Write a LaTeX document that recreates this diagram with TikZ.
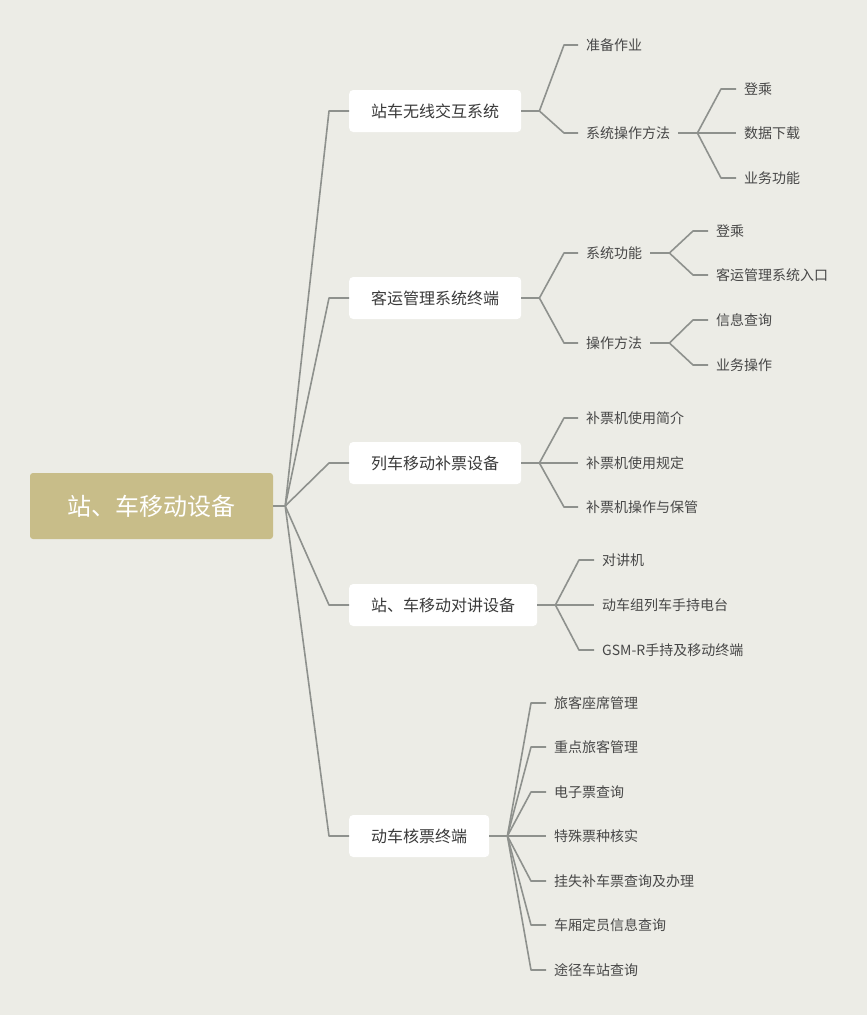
\documentclass[tikz,border=0pt]{standalone}
\usepackage{fontspec}
\setmainfont{Noto Sans CJK SC}
\definecolor{bg}{HTML}{ECECE6}
\definecolor{lc}{HTML}{8E918D}
\definecolor{rootc}{HTML}{C8BD89}
\definecolor{tc}{HTML}{3A3A3A}
\definecolor{lt}{HTML}{474747}
\begin{document}
\begin{tikzpicture}[x=1pt,y=-1pt,
 conn/.style={draw=lc, line width=1.6pt, line join=round},
 rootnode/.style={fill=rootc, rounded corners=3pt, minimum width=243pt, minimum height=66pt, text=white, font=\fontsize{24}{28}\selectfont},
 topic/.style={fill=white, rounded corners=4pt, inner xsep=22pt, minimum height=42pt, font=\fontsize{16}{19}\selectfont, text=tc, anchor=west},
 leaf/.style={inner xsep=0pt, inner ysep=2pt, anchor=west, font=\fontsize{14}{17}\selectfont, text=lt}]
\fill[bg] (0,0) rectangle (867,1015);
\useasboundingbox (0,0) rectangle (867,1015);

% root
\node[rootnode] (root) at (151.5,506) {站、车移动设备};

% topics
\node[topic] (t1) at (349,111) {站车无线交互系统};
\node[topic] (t2) at (349,298) {客运管理系统终端};
\node[topic] (t3) at (349,463) {列车移动补票设备};
\node[topic] (t4) at (349,605) {站、车移动对讲设备};
\node[topic] (t5) at (349,836) {动车核票终端};

% branch 1
\node[leaf] (a1) at (586,45) {准备作业};
\node[leaf] (a2) at (586,133) {系统操作方法};
\node[leaf] (a21) at (744,89) {登乘};
\node[leaf] (a22) at (744,133) {数据下载};
\node[leaf] (a23) at (744,178) {业务功能};

% branch 2
\node[leaf] (b1) at (586,253) {系统功能};
\node[leaf] (b2) at (586,343) {操作方法};
\node[leaf] (b11) at (716,231) {登乘};
\node[leaf] (b12) at (716,275) {客运管理系统入口};
\node[leaf] (b21) at (716,320) {信息查询};
\node[leaf] (b22) at (716,365) {业务操作};

% branch 3
\node[leaf] (c1) at (586,418) {补票机使用简介};
\node[leaf] (c2) at (586,463) {补票机使用规定};
\node[leaf] (c3) at (586,507) {补票机操作与保管};

% branch 4
\node[leaf] (d1) at (602,560) {对讲机};
\node[leaf] (d2) at (602,605) {动车组列车手持电台};
\node[leaf] (d3) at (602,650) {GSM-R手持及移动终端};

% branch 5
\node[leaf] (e1) at (554,703) {旅客座席管理};
\node[leaf] (e2) at (554,747) {重点旅客管理};
\node[leaf] (e3) at (554,792) {电子票查询};
\node[leaf] (e4) at (554,836) {特殊票种核实};
\node[leaf] (e5) at (554,881) {挂失补车票查询及办理};
\node[leaf] (e6) at (554,925) {车厢定员信息查询};
\node[leaf] (e7) at (554,970) {途径车站查询};

% root connectors
\draw[conn] (root.east) -- ++(12,0) coordinate (rf);
\foreach \t in {t1,t2,t3,t4,t5}
  \draw[conn] (rf) -- ([xshift=-20pt]\t.west) -- (\t.west);

% topic -> leaves
\draw[conn] (t1.east) -- ++(18,0) coordinate (f1);
\foreach \l in {a1,a2}
  \draw[conn] (f1) -- ([xshift=-22pt]\l.west) -- ([xshift=-8pt]\l.west);
\draw[conn] ([xshift=8pt]a2.east) -- ++(19,0) coordinate (f12);
\foreach \l in {a21,a22,a23}
  \draw[conn] (f12) -- ([xshift=-23pt]\l.west) -- ([xshift=-8pt]\l.west);

\draw[conn] (t2.east) -- ++(18,0) coordinate (f2);
\foreach \l in {b1,b2}
  \draw[conn] (f2) -- ([xshift=-22pt]\l.west) -- ([xshift=-8pt]\l.west);
\draw[conn] ([xshift=8pt]b1.east) -- ++(19,0) coordinate (f21);
\foreach \l in {b11,b12}
  \draw[conn] (f21) -- ([xshift=-23pt]\l.west) -- ([xshift=-8pt]\l.west);
\draw[conn] ([xshift=8pt]b2.east) -- ++(19,0) coordinate (f22);
\foreach \l in {b21,b22}
  \draw[conn] (f22) -- ([xshift=-23pt]\l.west) -- ([xshift=-8pt]\l.west);

\draw[conn] (t3.east) -- ++(18,0) coordinate (f3);
\foreach \l in {c1,c2,c3}
  \draw[conn] (f3) -- ([xshift=-22pt]\l.west) -- ([xshift=-8pt]\l.west);

\draw[conn] (t4.east) -- ++(18,0) coordinate (f4);
\foreach \l in {d1,d2,d3}
  \draw[conn] (f4) -- ([xshift=-23pt]\l.west) -- ([xshift=-8pt]\l.west);

\draw[conn] (t5.east) -- ++(18,0) coordinate (f5);
\foreach \l in {e1,e2,e3,e4,e5,e6,e7}
  \draw[conn] (f5) -- ([xshift=-23pt]\l.west) -- ([xshift=-8pt]\l.west);
\end{tikzpicture}
\end{document}
